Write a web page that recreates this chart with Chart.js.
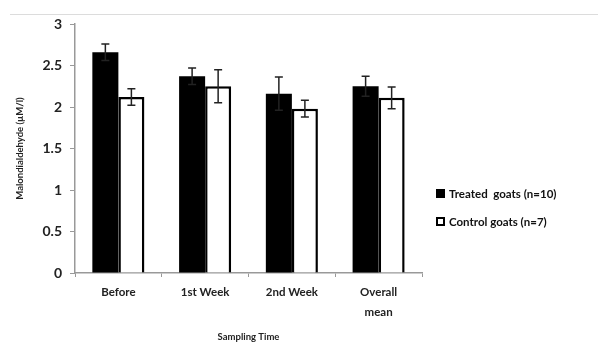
<!DOCTYPE html>
<html>
<head>
<meta charset="utf-8">
<script src="https://cdn.jsdelivr.net/npm/chart.js@4"></script>
<style>
    body { margin: 0; background: #fff; }
    #wrap { position: relative; width: 598px; height: 347px; }
    canvas { display: block; }
    #topline { position: absolute; left: 10px; right: 0; top: 14px; height: 1px; background: #dcdcdc; }
    #legend { position: absolute; left: 436px; top: 179px; font-family: Lato, sans-serif; font-weight: bold; font-size: 11.5px; color: #111; }
    .item { display: flex; align-items: center; height: 28px; white-space: pre; }
    .box { width: 9px; height: 9px; margin-right: 4px; box-sizing: border-box; border: 2px solid #000; }
</style>
</head>
<body>
<div id="wrap">
    <div id="topline"></div>
    <canvas id="chart" width="598" height="347"></canvas>
    <div id="legend">
        <div class="item"><span class="box" style="background:#000"></span>Treated  goats (n=10)</div>
        <div class="item"><span class="box" style="background:#fff"></span>Control goats (n=7)</div>
    </div>
</div>
<script>
// Dane
const categories = ['Before', '1st Week', '2nd Week', ['Overall', 'mean']];
const treated = [2.66, 2.37, 2.16, 2.25];
const treatedErr = [0.10, 0.10, 0.20, 0.12];
const control = [2.12, 2.25, 1.98, 2.11];
const controlErr = [0.10, 0.20, 0.10, 0.13];
const yTicks = [0, 0.5, 1, 1.5, 2, 2.5, 3];

// Słupki błędów rysowane przez skale wykresu
const errorBars = {
    id: 'errorBars',
    afterDatasetsDraw(chart) {
        const ctx = chart.ctx;
        const y = chart.scales.y;
        chart.data.datasets.forEach((ds, di) => {
            const meta = chart.getDatasetMeta(di);
            meta.data.forEach((bar, i) => {
                const v = ds.data[i], e = ds.errors[i];
                const top = y.getPixelForValue(v + e);
                const bot = y.getPixelForValue(v - e);
                ctx.save();
                ctx.strokeStyle = '#222';
                ctx.lineWidth = 1.5;
                ctx.beginPath();
                ctx.moveTo(bar.x, top); ctx.lineTo(bar.x, bot);
                ctx.moveTo(bar.x - 4, top); ctx.lineTo(bar.x + 4, top);
                ctx.moveTo(bar.x - 4, bot); ctx.lineTo(bar.x + 4, bot);
                ctx.stroke();
                ctx.restore();
            });
        });
    }
};

new Chart(document.getElementById('chart'), {
    type: 'bar',
    data: {
        labels: categories,
        datasets: [{
            label: 'Treated  goats (n=10)',
            data: treated,
            errors: treatedErr,
            backgroundColor: '#000',
            borderWidth: 0
        }, {
            label: 'Control goats (n=7)',
            data: control,
            errors: controlErr,
            backgroundColor: '#fff',
            borderColor: '#000',
            borderWidth: 2.5
        }]
    },
    options: {
        responsive: false,
        animation: false,
        layout: { padding: { left: 10, right: 176, top: 24, bottom: 0 } },
        categoryPercentage: 0.6,
        barPercentage: 1,
        scales: {
            x: {
                afterFit: s => { s.height = 74; },
                grid: { offset: true, drawOnChartArea: false, tickLength: 4, color: '#999' },
                border: { color: '#999', width: 1.5 },
                ticks: { color: '#222', font: { family: 'Lato', size: 11.5, weight: 'bold', lineHeight: 1.7 }, padding: 6 },
                title: { display: true, text: 'Sampling Time', color: '#222', font: { family: 'Lato', size: 9.5, weight: 'bold' }, padding: { top: 0 } }
            },
            y: {
                min: 0,
                max: 3,
                afterFit: s => { s.width = 65; },
                afterBuildTicks: s => { s.ticks = yTicks.map(v => ({ value: v })); },
                grid: { drawOnChartArea: false, tickLength: 5, color: '#999' },
                border: { color: '#999', width: 1.5 },
                ticks: { color: '#222', font: { family: 'Lato', size: 14, weight: 'bold' }, padding: 8, callback: v => String(v) },
                title: { display: true, text: 'Malondialdehyde (µM/l)', color: '#222', font: { family: 'Lato', size: 9.5, weight: 'bold' }, padding: { bottom: 4 } }
            }
        },
        plugins: {
            legend: { display: false },
            tooltip: { enabled: false }
        }
    },
    plugins: [errorBars]
});
</script>
</body>
</html>
